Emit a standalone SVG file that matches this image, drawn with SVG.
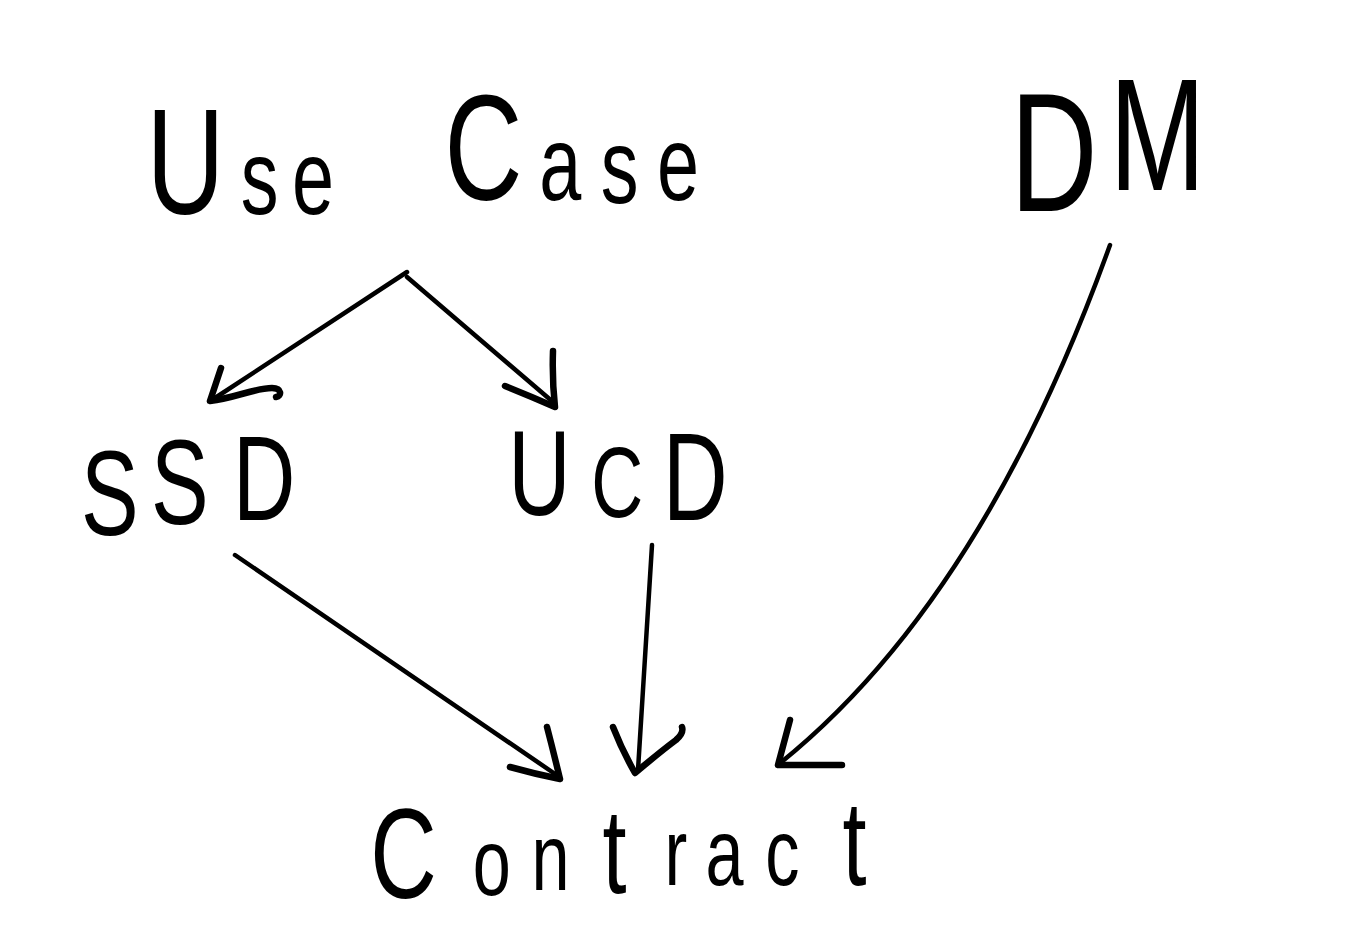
<svg xmlns="http://www.w3.org/2000/svg" width="1357" height="935" viewBox="0 0 1357 935">
<style>
.t{font-family:"Liberation Sans",Arial,sans-serif;fill:#000}
.shaft{fill:none;stroke:#000;stroke-width:4.5;stroke-linecap:round;stroke-linejoin:round}
.head{fill:none;stroke:#000;stroke-width:6.5;stroke-linecap:round;stroke-linejoin:round}
</style>
<rect x="0" y="0" width="1357" height="935" fill="#fff"/>
<g id="node-usecase">
<text class="t" transform="scale(0.72,1)"><tspan x="203.5" y="214" font-size="150">U</tspan><tspan x="334.3 405.6" y="214" font-size="105">se</tspan><tspan x="560 617.5" y="200" font-size="150"> C</tspan><tspan x="749 834.3 912.5" y="200 203 200" font-size="105">ase</tspan></text>
</g>
<g id="node-dm">
<text class="t" transform="scale(0.72,1)"><tspan x="1403" y="211" font-size="168">D</tspan><tspan x="1541" y="190" font-size="160">M</tspan></text>
</g>
<g id="node-ssd">
<text class="t" transform="scale(0.72,1)" font-size="120"><tspan x="112.5" y="535">S</tspan><tspan x="209.7" y="524">S</tspan><tspan x="323.6" y="520">D</tspan></text>
</g>
<g id="node-ucd">
<text class="t" transform="scale(0.72,1)"><tspan x="705.8" y="515" font-size="120">U</tspan><tspan x="821.3" y="517" font-size="100">C</tspan><tspan x="920.6" y="520" font-size="125">D</tspan></text>
</g>
<g id="node-contract">
<text class="t" transform="scale(0.72,1)"><tspan x="514.4" y="898" font-size="128">C</tspan><tspan x="656.5 738.2" y="895 890" font-size="95">on</tspan><tspan x="836.8" y="893" font-size="120">t</tspan><tspan x="922.9 979.9 1062.9" y="885" font-size="95">rac</tspan><tspan x="1170" y="885" font-size="120">t</tspan></text>
</g>
<g id="connectors">
<path class="shaft" d="M407,272 L215,398"/>
<path class="head" d="M221,368 L210,401 C235,398 255,388 272,388 C282,388 282,396 276,397"/>
<path class="shaft" d="M407,277 L553,402"/>
<path class="head" d="M553,351 Q552,380 555,407 Q530,396 505,386"/>
<path class="shaft" d="M235,555 L558,776"/>
<path class="head" d="M547,727 Q553,750 560,779 Q535,774 510,767"/>
<path class="shaft" d="M652,545 Q645,650 638,770"/>
<path class="head" d="M613,727 Q622,750 635,773 Q660,752 676,740 Q684,733 682,727"/>
<path class="shaft" d="M1110,245 Q982,601 779,764"/>
<path class="head" d="M790,720 L778,765 L842,765"/>
</g>
</svg>
